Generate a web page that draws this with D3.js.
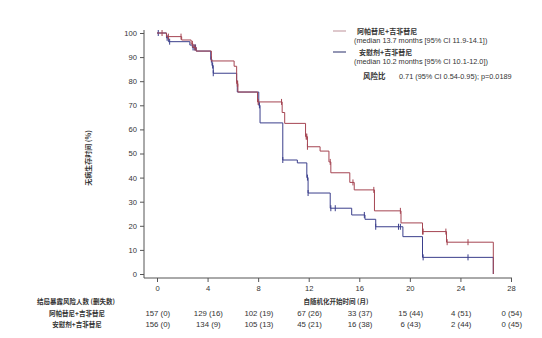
<!DOCTYPE html>
<html><head><meta charset="utf-8">
<script src="https://cdn.jsdelivr.net/npm/d3@7"></script>
<style>
html,body{margin:0;padding:0;background:#fff;}
text{font-family:"Liberation Sans",Arial,"Noto Sans CJK SC",sans-serif;fill:#333;}
.cjk{font-family:"Noto Sans CJK SC","Liberation Sans",sans-serif;}
</style></head>
<body>
<svg id="c" width="542" height="338"></svg>
<script>
const groups = ["阿帕替尼+吉非替尼", "安慰剂+吉非替尼"];
const medians = ["(median 13.7 months [95% CI 11.9-14.1])", "(median 10.2 months [95% CI 10.1-12.0])"];
const hrLabel = "风险比";
const hrText = "0.71 (95% CI 0.54-0.95); p=0.0189";
const monthTicks = [0, 4, 8, 12, 16, 20, 24, 28];
const yTicks = [0, 10, 20, 30, 40, 50, 60, 70, 80, 90, 100];
const yTitle = "无病生存时间 (%)";
const xTitle = "自随机化开始时间 (月)";
const riskTitle = "结局暴露风险人数 (删失数)";

const redTimes = [0, 0.75, 1.95, 2.7, 2.85, 3.1, 4.3, 6.1, 6.3, 6.4, 7.95, 9.9, 10.1, 11.75, 11.9, 12.9, 13.6, 13.75, 15.25, 15.6, 17.2, 19.3, 21.0, 22.9, 26.6];
const redSurv  = [100, 98.5, 97.1, 95.5, 94, 92.5, 88.4, 86.2, 79, 75.5, 71.4, 67, 62.5, 57, 52.8, 51, 46.5, 42, 38, 34.9, 26.2, 21.2, 17.6, 13.2, 0];
const blueTimes = [0, 0.75, 0.9, 2.6, 2.8, 3.1, 4.25, 4.35, 4.45, 6.3, 6.35, 8.05, 8.15, 9.95, 11.1, 11.85, 11.95, 13.7, 15.4, 16.45, 17.3, 19.45, 21.0, 26.6];
const blueSurv  = [100, 98, 96.4, 95, 94, 92.5, 89, 86.5, 83.3, 80, 75.5, 70, 62.7, 47.3, 46.1, 40, 33.6, 27.3, 24.5, 22.7, 19.6, 15.5, 6.9, 0];
const redCensor = [0.4, 0.9, 1.9, 2.8, 3.0, 6.35, 6.38, 8.0, 9.85, 11.8, 11.85, 11.9, 13.7, 15.5, 17.15, 19.25, 21.0, 21.05, 22.85, 22.95, 24.6];
const blueCensor = [0.1, 0.8, 1.0, 2.85, 2.95, 3.05, 4.3, 4.4, 4.45, 8.1, 9.95, 11.9, 11.95, 13.75, 14.1, 16.4, 17.3, 19.1, 19.25, 21.05, 24.6];
const riskRed = ["157 (0)", "129 (16)", "102 (19)", "67 (26)", "33 (37)", "15 (44)", "4 (51)", "0 (54)"];
const riskBlue = ["156 (0)", "134 (9)", "105 (13)", "45 (21)", "16 (38)", "6 (43)", "2 (44)", "0 (45)"];

const colors = ["#a54552", "#3b3f8c"];
const legendColors = ["#c9a3aa", "#4a4f82"];

const svg = d3.select("#c");
const x = d3.scaleLinear().domain([0, 28]).range([157, 511]);
const y = d3.scaleLinear().domain([0, 100]).range([274, 33]);

// axes
const xAxisG = svg.append("g").attr("transform", "translate(0,278)")
  .call(d3.axisBottom(x).tickValues(monthTicks).tickSize(4).tickPadding(4));
xAxisG.select(".domain").attr("d", "M144,0H512");
const yAxisG = svg.append("g").attr("transform", "translate(144,0)")
  .call(d3.axisLeft(y).tickValues(yTicks).tickSize(4).tickPadding(3));
yAxisG.select(".domain").attr("d", "M0,30V278");
svg.selectAll(".domain").attr("stroke", "#555").attr("stroke-width", 1);
svg.selectAll(".tick line").attr("stroke", "#555");
svg.selectAll(".tick text").attr("font-size", 7.6).attr("fill", "#333")
  .style("font-family", "'Liberation Sans',Arial,sans-serif");

svg.append("text").attr("class", "cjk")
  .attr("transform", "translate(91,158) rotate(-90)")
  .attr("text-anchor", "middle").attr("font-size", 7).attr("font-weight", 600)
  .text(yTitle);

// curves
const line = d3.line().x(d => x(d[0])).y(d => y(d[1])).curve(d3.curveStepAfter);
const series = [
  {t: redTimes, s: redSurv, c: redCensor},
  {t: blueTimes, s: blueSurv, c: blueCensor}
];
function survAt(sr, tt) {
  let v = sr.s[0];
  for (let i = 0; i < sr.t.length; i++) if (sr.t[i] <= tt) v = sr.s[i];
  return v;
}
[1, 0].forEach(i => {
  const sr = series[i];
  const pts = sr.t.map((t, k) => [t, sr.s[k]]);
  svg.append("path").attr("d", line(pts)).attr("fill", "none")
    .attr("stroke", colors[i]).attr("stroke-width", 1);
  svg.append("g").selectAll("line").data(sr.c).join("line")
    .attr("x1", d => x(d)).attr("x2", d => x(d))
    .attr("y1", d => y(survAt(sr, d)) - 3).attr("y2", d => y(survAt(sr, d)) + 3)
    .attr("stroke", colors[i]).attr("stroke-width", 1);
});

// legend
const lg = svg.append("g");
[0, 1].forEach(i => {
  const ly = [31, 52][i];
  lg.append("line").attr("x1", 333).attr("x2", 346).attr("y1", ly).attr("y2", ly)
    .attr("stroke", legendColors[i]).attr("stroke-width", 1.2);
  lg.append("text").attr("class", "cjk").attr("x", i === 0 ? 357 : 359).attr("y", ly + 2.5)
    .attr("font-size", 7).attr("font-weight", 600).attr("fill", "#333").text(groups[i]);
  lg.append("text").attr("x", 354).attr("y", ly + 11.5)
    .attr("font-size", 7.3).attr("fill", "#444").text(medians[i]);
});
lg.append("text").attr("class", "cjk").attr("x", 363).attr("y", 79)
  .attr("font-size", 7.5).attr("font-weight", 700).attr("fill", "#222").text(hrLabel);
lg.append("text").attr("x", 399).attr("y", 79)
  .attr("font-size", 7.3).attr("fill", "#444").text(hrText);

// risk table
svg.append("text").attr("class", "cjk").attr("x", 76).attr("y", 303.5)
  .attr("text-anchor", "middle").attr("font-size", 6.5).attr("font-weight", 600).text(riskTitle);
svg.append("text").attr("class", "cjk").attr("x", 336).attr("y", 303.5)
  .attr("text-anchor", "middle").attr("font-size", 6.5).attr("font-weight", 600).text(xTitle);
[riskRed, riskBlue].forEach((row, i) => {
  const ry = [316, 327][i];
  svg.append("text").attr("class", "cjk").attr("x", 77).attr("y", ry)
    .attr("text-anchor", "middle").attr("font-size", 6.5).attr("font-weight", 600).text(groups[i]);
  svg.append("g").selectAll("text").data(row).join("text")
    .attr("x", (d, k) => x(monthTicks[k]) + 0.8).attr("y", ry)
    .attr("text-anchor", "middle").attr("font-size", 7.8).attr("fill", "#333").text(d => d);
});
</script>
</body></html>
